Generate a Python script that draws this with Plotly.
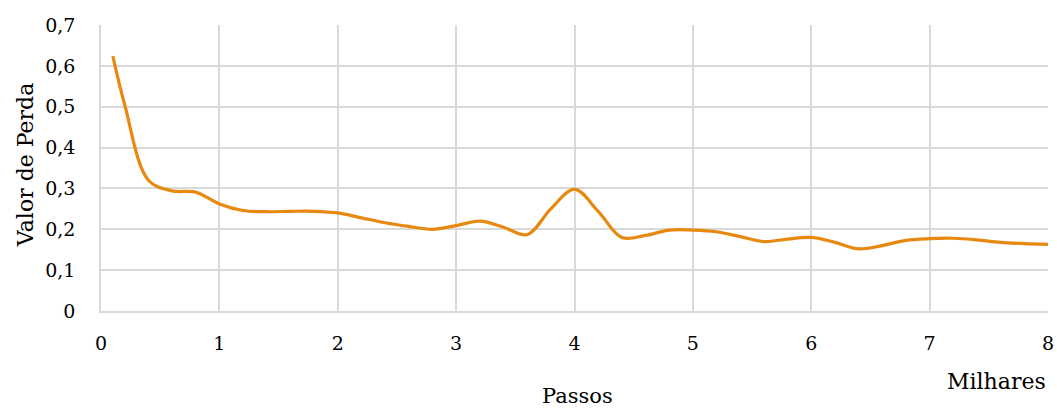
import plotly.graph_objects as go

passos = [0.1, 0.2, 0.4, 0.6, 0.8, 1.0, 1.2, 1.4, 1.6, 1.8, 2.0, 2.2, 2.4, 2.6, 2.8,
          3.0, 3.2, 3.4, 3.6, 3.8, 4.0, 4.2, 4.4, 4.6, 4.8, 5.0, 5.2, 5.4, 5.6, 5.8,
          6.0, 6.2, 6.4, 6.6, 6.8, 7.0, 7.2, 7.4, 7.6, 7.8, 8.0]
perda = [0.624, 0.505, 0.320, 0.294, 0.291, 0.262, 0.246, 0.243, 0.244, 0.244, 0.240,
         0.228, 0.216, 0.207, 0.200, 0.209, 0.220, 0.205, 0.187, 0.250, 0.298, 0.244,
         0.180, 0.185, 0.198, 0.198, 0.194, 0.182, 0.170, 0.176, 0.180, 0.168, 0.152,
         0.160, 0.173, 0.177, 0.178, 0.174, 0.168, 0.165, 0.163]

x_ticks = [0, 1, 2, 3, 4, 5, 6, 7, 8]
y_ticks = [0, 0.1, 0.2, 0.3, 0.4, 0.5, 0.6, 0.7]

FONT = "DejaVu Serif"
H_PLOT = 286.0
W_PLOT = 947.0

fig = go.Figure()
fig.add_trace(go.Scatter(x=passos, y=perda, mode="lines",
                         line=dict(color="#E8890F", width=3.2, shape="spline", smoothing=1.0),
                         showlegend=False, hoverinfo="skip"))

fig.update_layout(
    width=1057, height=408,
    margin=dict(l=101, r=9, t=25, b=97),
    paper_bgcolor="white", plot_bgcolor="white",
    separators=", ",
    font=dict(family=FONT, size=19, color="#000000"),
    xaxis=dict(range=[0, 8], tickvals=x_ticks, showgrid=True, gridcolor="#d9d9d9",
               gridwidth=1.5, zeroline=False, showline=True, linecolor="#d9d9d9",
               linewidth=1.5, ticks="", ticklabelstandoff=14, automargin=False,
               ticklabeloverflow="allow",
               tickfont=dict(family=FONT, size=19)),
    yaxis=dict(range=[0, 0.7], tickvals=y_ticks, showgrid=True, gridcolor="#d9d9d9",
               gridwidth=1.5, zeroline=False, showline=True, linecolor="#d9d9d9",
               linewidth=1.5, ticks="", ticklabelstandoff=20, automargin=False,
               tickfont=dict(family=FONT, size=19)),
    annotations=[
        dict(text="Milhares", xref="paper", yref="paper", x=1.0, y=-70 / H_PLOT,
             xanchor="right", yanchor="middle", showarrow=False,
             font=dict(family=FONT, size=22)),
        dict(text="Passos", xref="paper", yref="paper", x=0.503, y=-85 / H_PLOT,
             xanchor="center", yanchor="middle", showarrow=False,
             font=dict(family=FONT, size=21)),
        dict(text="Valor de Perda", xref="paper", yref="paper", x=-76 / W_PLOT, y=0.51,
             xanchor="center", yanchor="middle", showarrow=False, textangle=-90,
             font=dict(family=FONT, size=22)),
    ],
)

fig.write_html("out.html", config={"displayModeBar": False},
               post_script="document.body.style.margin='0';document.body.style.overflow='hidden';")
